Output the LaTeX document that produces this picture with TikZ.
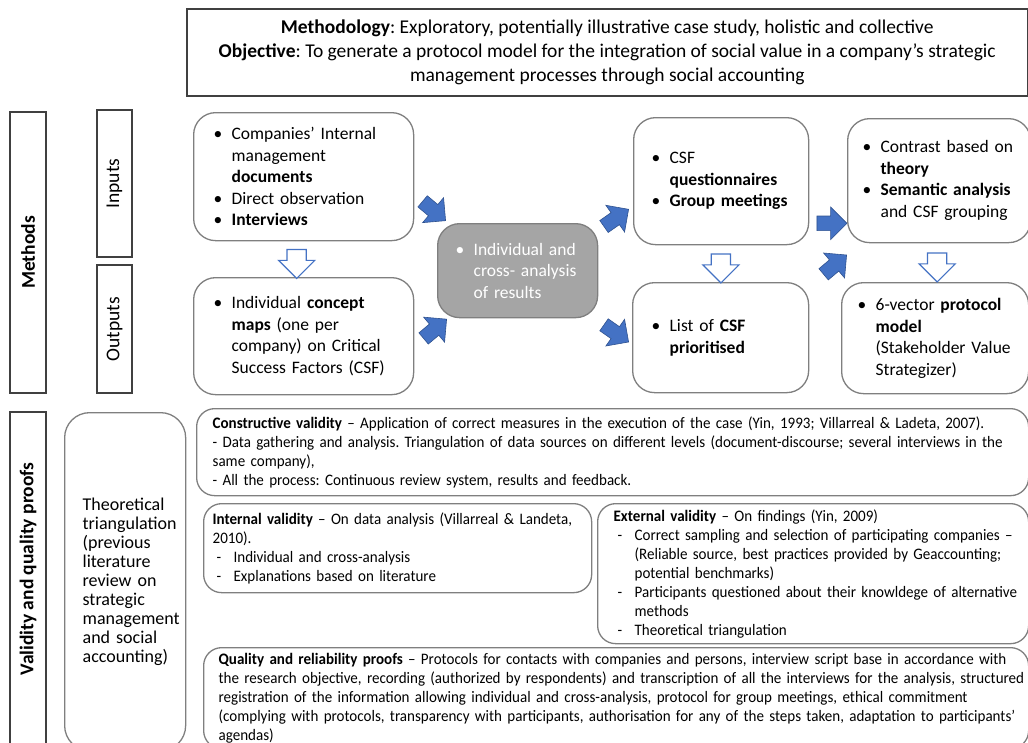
\documentclass[tikz,border=0pt]{standalone}
\usepackage{fontspec}
\setmainfont{Carlito}
\newfontfamily\narrowfont[FakeStretch=0.94, Ligatures=TeX]{Carlito}
\usetikzlibrary{shapes.arrows,calc,positioning}
\frenchspacing
\hyphenpenalty=10000
\exhyphenpenalty=10000

\definecolor{boxgray}{HTML}{7F7F7F}
\definecolor{framegray}{HTML}{404040}
\definecolor{midfill}{HTML}{A5A5A5}
\definecolor{arrowblue}{HTML}{4472C4}
\definecolor{arrowedge}{HTML}{2F528F}

\newcommand{\hdfont}{\fontsize{19.5pt}{24pt}\selectfont}
\newcommand{\sdfont}{\fontsize{19.5pt}{24pt}\selectfont}
\newcommand{\bxfont}{\fontsize{17.5pt}{21.5pt}\selectfont}
\newcommand{\vlfont}{\narrowfont\fontsize{16pt}{19pt}\selectfont}
\newcommand{\thfont}{\fontsize{18pt}{19pt}\selectfont}

% bullet and dash items with hanging indent
\newcommand{\bpt}[1]{\noindent\hangindent=26pt\hangafter=1\hbox to 26pt{\hskip8pt\textbullet\hfil}#1\par}
\newcommand{\dpt}[1]{\noindent\hangindent=21pt\hangafter=1\hbox to 21pt{\hskip4pt-\hfil}#1\par}

\tikzset{
  rulebox/.style={draw=framegray, line width=1.5pt, inner sep=0pt},
  sidebar/.style={rulebox, rotate=90, font=\sdfont},
  tbox/.style n args={3}{minimum width=#1, minimum height=#2, text width=#1,
    inner xsep=0pt, align=left, anchor=north west,
    execute at begin node={\parindent=0pt\leftskip=#3\relax}},
  stepbox/.style={draw=boxgray, line width=1.3pt, rounded corners=22pt, fill=white, font=\bxfont},
  crossbox/.style={stepbox, fill=midfill, text=white},
  proofbox/.style={draw=boxgray, line width=1.3pt, rounded corners=18pt, font=\vlfont},
  blockarrow/.style={single arrow, fill=arrowblue, draw=arrowedge, line width=0.6pt,
    minimum height=30pt, inner sep=7pt, single arrow head extend=9pt},
  hollowarrow/.style={single arrow, fill=white, draw=arrowblue, line width=1.2pt,
    minimum height=29pt, inner sep=9pt, single arrow head extend=8.5pt, rotate=-90}
}

\begin{document}
\begin{tikzpicture}[x=1pt, y=-1pt]
\useasboundingbox (0,0) rectangle (1028,742);
\clip (0,0) rectangle (1028,742);

% header
\node[rulebox, anchor=north west, minimum width=841pt, minimum height=87pt, align=center, font=\hdfont] (head) at (186,8)
  {\textbf{Methodology}: Exploratory, potentially illustrative case study, holistic and collective\\
   \textbf{Objective}: To generate a protocol model for the integration of social value in a company’s strategic\\
   management processes through social accounting};

% side labels
\node[sidebar, minimum width=281pt, minimum height=36pt, font=\sdfont\bfseries] (methods) at (28,252.5) {Methods};
\node[sidebar, minimum width=147pt, minimum height=35pt] (inputs) at (114.5,183.5) {Inputs};
\node[sidebar, minimum width=128pt, minimum height=35pt] (outputs) at (114.5,329) {Outputs};

% methods boxes
\node[stepbox, tbox={220pt}{128pt}{12pt}] (docs) at (193,112)
  {\bpt{Companies’ Internal\newline management\newline \textbf{documents}}\bpt{Direct observation}\bpt{\textbf{Interviews}}};
\node[stepbox, tbox={220pt}{117pt}{12pt}] (maps) at (193,277)
  {\bpt{Individual \textbf{concept}\newline \textbf{maps} (one per\newline company) on Critical\newline Success Factors (CSF)}};
\node[crossbox, tbox={160pt}{94pt}{10pt}] (cross) at (437,223)
  {\bpt{Individual and\newline cross- analysis\newline of results}};
\node[stepbox, tbox={175pt}{127pt}{10pt}] (quest) at (633,117)
  {\bpt{CSF\newline \textbf{questionnaires}}\bpt{\textbf{Group meetings}}};
\node[stepbox, tbox={176pt}{110pt}{11pt}] (csflist) at (632,282)
  {\bpt{List of \textbf{CSF}\newline \textbf{prioritised}}};
\node[stepbox, tbox={183pt}{124pt}{7pt}] (contrast) at (847,118)
  {\bpt{Contrast based on\newline \textbf{theory}}\bpt{\textbf{Semantic analysis}\newline and CSF grouping}};
\node[stepbox, tbox={187pt}{111pt}{8pt}] (model) at (841,282)
  {\bpt{6-vector \textbf{protocol}\newline \textbf{model}\newline (Stakeholder Value\newline Strategizer)}};

% arrows
\node[blockarrow, rotate=-40] (a1) at ($(docs.east)+(17,32)$) {};
\node[blockarrow, rotate=40] (a2) at ($(maps.east)+(18,-5)$) {};
\node[blockarrow, rotate=35] (a3) at ($(cross.north east)+(15,-3)$) {};
\node[blockarrow, rotate=-35] (a4) at ($(cross.south east)+(15,13)$) {};
\node[blockarrow] (a5) at ($(quest.south east)+(19,-22)$) {};
\node[blockarrow, rotate=40] (a6) at ($(csflist.north east)+(23,-15)$) {};
\node[hollowarrow] (h1) at ($(docs.south)!0.5!(maps.north)+(-7,0)$) {};
\node[hollowarrow] (h2) at ($(quest.south)!0.5!(csflist.north)$) {};
\node[hollowarrow] (h3) at ($(contrast.south)!0.5!(model.north)$) {};

% validity and quality proofs
\node[sidebar, minimum width=338pt, minimum height=36pt, font=\sdfont\bfseries] (validity) at (28,581)
  {\hspace*{24pt}Validity and quality proofs};
\node[proofbox, rounded corners=25pt, font=\thfont, tbox={121pt}{338pt}{18pt}] (theory) at (64,412)
  {Theoretical\\ triangulation\\ (previous\\ literature\\ review on\\ strategic\\ management\\ and social\\ accounting)};
\node[proofbox, tbox={832pt}{87pt}{16pt}] (constr) at (196,408)
  {\textbf{Constructive validity} -- Application of correct measures in the execution of the case (Yin, 1993; Villarreal \& Ladeta, 2007).\\
   - Data gathering and analysis. Triangulation of data sources on different levels (document-discourse; several interviews in the\\
   same company),\\
   - All the process: Continuous review system, results and feedback.};
\node[proofbox, tbox={388pt}{89pt}{9pt}] (intval) at (203,503)
  {\textbf{Internal validity} -- On data analysis (Villarreal \& Landeta,\newline 2010).\par
   \dpt{Individual and cross-analysis}\dpt{Explanations based on literature}};
\node[proofbox, tbox={431pt}{140pt}{16pt}] (extval) at (597,503)
  {\textbf{External validity} -- On findings (Yin, 2009)\par
   \dpt{Correct sampling and selection of participating companies --\newline (Reliable source, best practices provided by Geaccounting;\newline potential benchmarks)}
   \dpt{Participants questioned about their knowldege of alternative\newline methods}
   \dpt{Theoretical triangulation}};
\node[proofbox, tbox={825pt}{101pt}{15pt}] (quality) at (203,647)
  {\textbf{Quality and reliability proofs} -- Protocols for contacts with companies and persons, interview script base in accordance with\\
   the research objective, recording (authorized by respondents) and transcription of all the interviews for the analysis, structured\\
   registration of the information allowing individual and cross-analysis, protocol for group meetings, ethical commitment\\
   (complying with protocols, transparency with participants, authorisation for any of the steps taken, adaptation to participants’\\
   agendas)};
\end{tikzpicture}
\end{document}
